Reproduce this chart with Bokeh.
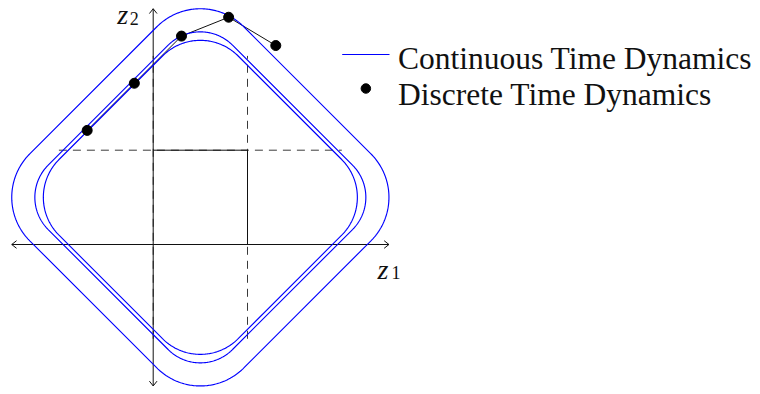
import numpy as np
from bokeh.plotting import figure
from bokeh.models import Range1d, Label
from bokeh.embed import file_html
from bokeh.resources import INLINE

# ---------------- data ----------------
# continuous-time level curves: rounded diamonds centred at (0.5, 0.5)
curve_center = [0.5, 0.5]
curve_extent = [2.0, 1.755, 1.665]   # centre -> rounded vertex
curve_side = [2.27, 1.955, 1.90]     # |u|+|v| along straight sides

# discrete-time trajectory
disc_z1 = [-0.70, -0.20, 0.30, 0.80, 1.30]
disc_z2 = [1.21, 1.71, 2.21, 2.41, 2.11]

# axes and reference lines
axis_min, axis_max = -1.5, 2.5
grid_levels = [0.0, 1.0]
grid_min, grid_max = -1.0, 2.0

legend_labels = ["Continuous Time Dynamics", "Discrete Time Dynamics"]


def rounded_diamond(cx, cy, ext, side, n=80):
    rho = (side - ext) / (np.sqrt(2) - 1)
    d = side - rho * np.sqrt(2)
    xs, ys = [], []
    corners = [(d, 0.0), (0.0, d), (-d, 0.0), (0.0, -d)]
    for k, (vx, vy) in enumerate(corners):
        th = np.linspace(-np.pi / 4 + k * np.pi / 2, np.pi / 4 + k * np.pi / 2, n)
        xs.extend(cx + vx + rho * np.cos(th))
        ys.extend(cy + vy + rho * np.sin(th))
    xs.append(xs[0])
    ys.append(ys[0])
    return list(xs), list(ys)


# ---------------- layout ----------------
W, H = 756, 390
unit = 94.3
ox, oy = 152.7, 244.0   # origin position on canvas (px)
x_start = -ox / unit
y_end = oy / unit


def px_x(px):
    return (px - ox) / unit


def px_y(py):
    return (oy - py) / unit


p = figure(width=W, height=H,
           x_range=Range1d(x_start, x_start + W / unit),
           y_range=Range1d(y_end - H / unit, y_end),
           x_axis_type=None, y_axis_type=None,
           output_backend="svg", toolbar_location=None,
           min_border=0, min_border_left=0, min_border_right=0,
           min_border_top=0, min_border_bottom=0)
p.grid.visible = False
p.outline_line_color = None
p.background_fill_color = "white"

ink = "#111111"
dash_color = "#3a3a3a"
blue = "#0000ff"
lo, hi = grid_levels

# dashed reference lines
dash_xs = [[grid_min, grid_max] for _ in grid_levels] + [[g, g] for g in grid_levels]
dash_ys = [[g, g] for g in grid_levels] + [[grid_min, grid_max] for _ in grid_levels]
p.multi_line(xs=dash_xs, ys=dash_ys, line_color=dash_color, line_width=1, line_dash="8 6")

# solid black polylines: axes, arrow heads, unit square, discrete path
hl, hw = 4.8 / unit, 3.8 / unit
solid_xs = [[axis_min, axis_max], [0, 0], [lo, hi, hi]]
solid_ys = [[0, 0], [axis_min, axis_max], [hi, hi, lo]]
for tip, sgn in [(axis_max, -1), (axis_min, 1)]:
    solid_xs.append([tip + sgn * hl, tip, tip + sgn * hl])
    solid_ys.append([-hw, 0, hw])
    solid_xs.append([-hw, 0, hw])
    solid_ys.append([tip + sgn * hl, tip, tip + sgn * hl])
solid_xs.append(list(disc_z1))
solid_ys.append(list(disc_z2))
p.multi_line(xs=solid_xs, ys=solid_ys, line_color=ink, line_width=1)

# continuous curves
for ext, side in zip(curve_extent, curve_side):
    cx, cy = rounded_diamond(curve_center[0], curve_center[1], ext, side)
    p.line(cx, cy, line_color=blue, line_width=1.15)

# legend sample line (positioned in pixels)
leg_x0, leg_x1 = 341.7, 389.0
leg_rows = [54.0, 88.0]
p.line([px_x(leg_x0), px_x(leg_x1)], [px_y(leg_rows[0])] * 2,
       line_color=blue, line_width=1.15)

# discrete points + legend sample dot
p.scatter(disc_z1 + [px_x((leg_x0 + leg_x1) / 2)],
          disc_z2 + [px_y(leg_rows[1])],
          size=[10] * len(disc_z1) + [9.5], color="black")

# texts
FONT = "Liberation Serif"


def add_label(x, y, text, size, italic=False):
    p.add_layout(Label(x=x, y=y, text=text, text_font=FONT,
                       text_font_size=size, text_font_style="italic" if italic else "normal",
                       text_baseline="alphabetic", text_align="left", text_color=ink))


tip_px = ox + axis_max * unit
top_px = oy - axis_max * unit
add_label(px_x(tip_px - 11.5), px_y(oy + 24.5), "z", "28px", italic=True)
add_label(px_x(tip_px + 2.5), px_y(oy + 28), "1", "18px")
add_label(px_x(ox - 36), px_y(top_px + 5.5), "z", "28px", italic=True)
add_label(px_x(ox - 23.5), px_y(top_px + 10), "2", "18px")

leg_text_x, leg_baselines = 397.5, [57.7, 94.3]
for lab, b in zip(legend_labels, leg_baselines):
    add_label(px_x(leg_text_x), px_y(b), lab, "31.5px")

open("out.html", "w").write(file_html(p, INLINE))
